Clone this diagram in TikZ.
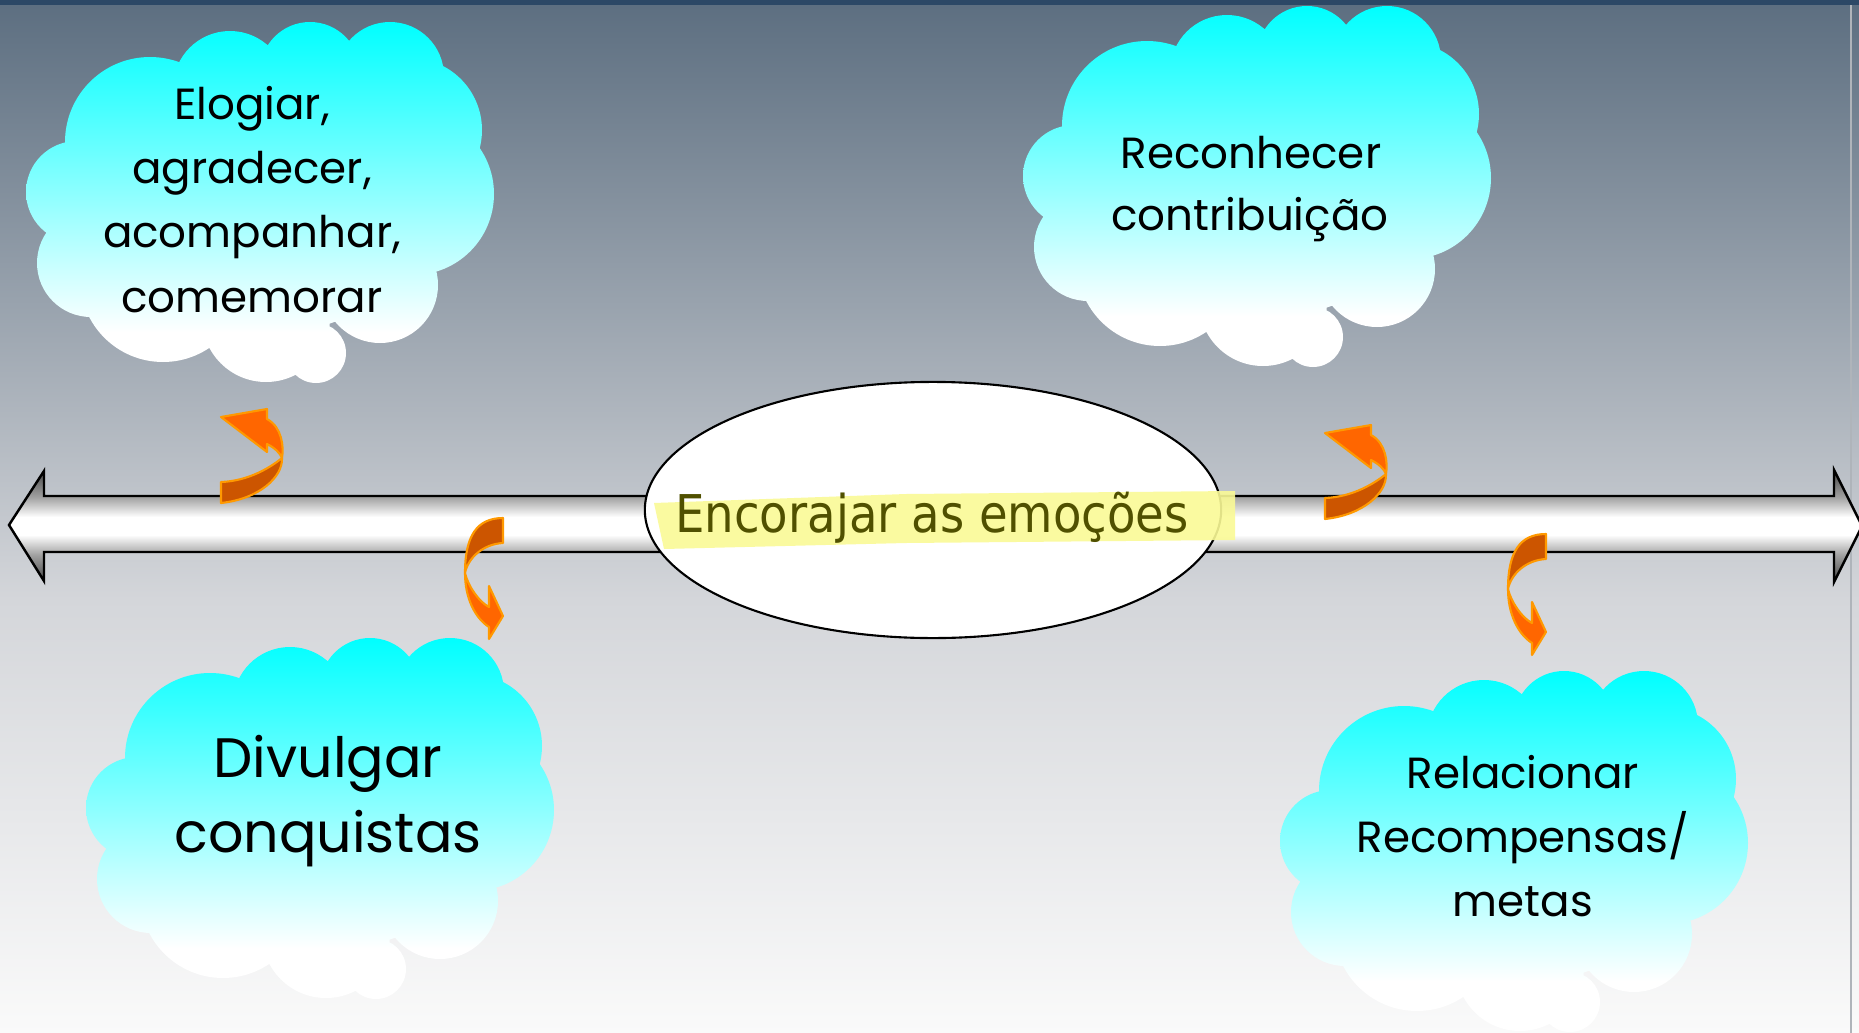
\documentclass[tikz,border=0pt]{standalone}
\usepackage{fontspec}
\setmainfont{DejaVu Sans}
\newfontfamily\handfont{Poppins}
\usetikzlibrary{shapes.geometric}

\definecolor{bgtop}{RGB}{92,110,128}
\definecolor{bgmid}{RGB}{212,214,218}
\definecolor{bgbot}{RGB}{250,250,250}
\definecolor{topbar}{RGB}{44,72,102}
\definecolor{edgegray}{RGB}{175,180,186}
\definecolor{ardark}{RGB}{70,70,70}
\definecolor{armid}{RGB}{160,160,160}
\definecolor{cloudtop}{RGB}{0,255,255}
\definecolor{orlight}{RGB}{255,102,0}
\definecolor{ordark}{RGB}{204,85,0}
\definecolor{oredge}{RGB}{255,153,0}
\definecolor{olivetext}{RGB}{80,80,0}
\definecolor{hlyellow}{RGB}{250,250,150}

\pgfdeclareverticalshading{bgshade}{100bp}{color(0bp)=(bgbot); color(25bp)=(bgbot); color(46bp)=(bgmid); color(75bp)=(bgtop); color(100bp)=(bgtop)}
\pgfdeclareverticalshading{cloudshade}{100bp}{color(0bp)=(white); color(25bp)=(white); color(32bp)=(white); color(75bp)=(cloudtop); color(100bp)=(cloudtop)}
\pgfdeclareverticalshading{arrowshade}{100bp}{color(0bp)=(ardark); color(25bp)=(ardark); color(37bp)=(armid); color(46bp)=(white); color(54bp)=(white); color(63bp)=(armid); color(75bp)=(ardark); color(100bp)=(ardark)}

\tikzset{
  arrowlight/.style={fill=orlight, draw=oredge, line width=0.6pt, line join=round},
  arrowdark/.style={fill=ordark, draw=oredge, line width=0.6pt, line join=round},
  cloudtext/.style={anchor=base, inner sep=0pt, text=black, font=\handfont\fontsize{12.4pt}{15pt}\selectfont},
  cloudbig/.style={cloudtext, font=\handfont\fontsize{15.8pt}{19pt}\selectfont},
  cloudpic/.pic={
    \shade[shading=cloudshade]
      (150,142) circle (85) (230,88) circle (57) (310,72) circle (50)
      (390,76) circle (54) (410,130) circle (72) (413,194) circle (81)
      (380,285) circle (58) (316,353) circle (30) (266,318) circle (64)
      (163,279) circle (83) (91,263) circle (54) (77,192) circle (51)
      (260,205) ellipse (170 and 130);
  },
  uparrowpic/.pic={
    \filldraw[arrowlight] (46,0) -- (0,8) -- (46,43) -- (46,35)
      .. controls (54,39) and (59,44) .. (61,49)
      .. controls (63,38) and (61,18) .. (46,10) -- cycle;
    \filldraw[arrowdark] (0,73) .. controls (28,72) and (50,58) .. (61,49)
      .. controls (62,68) and (38,90) .. (0,94) -- cycle;
  },
  downarrowpic/.pic={
    \filldraw[arrowdark] (38,0) .. controls (12,0) and (0,18) .. (0,55)
      .. controls (3,40) and (18,26) .. (38,25) -- cycle;
    \filldraw[arrowlight] (0,55) .. controls (0,80) and (10,100) .. (24,109)
      -- (24,121) -- (38,98) -- (24,68) -- (24,89)
      .. controls (14,84) and (3,68) .. (0,55) -- cycle;
  }
}

\begin{document}
\begin{tikzpicture}[x=0.01cm,y=-0.01cm]
\useasboundingbox (0,0) rectangle (1859,1033);
\clip (0,0) rectangle (1859,1033);

% background
\shade[shading=bgshade] (0,0) rectangle (1859,1033);
\fill[topbar] (0,0) rectangle (1859,5);
\draw[edgegray, line width=0.4pt] (1851,5) -- (1851,1033);

% clouds
\pic at (0,0) {cloudpic};
\pic at (997,-16) {cloudpic};
\pic at (60,616) {cloudpic};
\pic at (1254,649) {cloudpic};

% double arrow
\shadedraw[shading=arrowshade, draw=black, line width=0.7pt, line join=miter]
  (9,525) -- (44,471) -- (44,496) -- (1834,496) -- (1834,470) -- (1862,526)
  -- (1834,582) -- (1834,552) -- (44,552) -- (44,581) -- cycle;

% central ellipse
\node (hub) [ellipse, draw=black, line width=0.6pt, fill=white, inner sep=0pt,
  minimum width=5.76cm, minimum height=2.56cm] at (933,510) {};
\fill[hlyellow, opacity=0.9] (654,503) -- (906,494) -- (1235,491) -- (1235,540)
  -- (906,543) -- (664,549) -- cycle;
\node (hubtext) [anchor=base, inner sep=0pt, text=olivetext,
  font=\fontsize{14.8pt}{18pt}\selectfont] at (932,532)
  {\scalebox{0.895}[1]{Encorajar as emoções}};

% cloud texts
\node (el1) [cloudtext] at (252,119) {Elogiar,};
\node (el2) [cloudtext] at (252,183) {agradecer,};
\node (el3) [cloudtext] at (252,247) {acompanhar,};
\node (el4) [cloudtext] at (252,312) {comemorar};

\node (rc1) [cloudtext] at (1251,168) {Reconhecer};
\node (rc2) [cloudtext] at (1250,230) {contribuição};

\node (dv1) [cloudbig] at (328,777) {Divulgar};
\node (dv2) [cloudbig] at (328,852) {conquistas};

\node (rl1) [cloudtext] at (1523,788) {Relacionar};
\node (rl2) [cloudtext] at (1523,852) {Recompensas/};
\node (rl3) [cloudtext] at (1523,916) {metas};

% curved arrows
\pic at (221,409) {uparrowpic};
\pic at (1325,425) {uparrowpic};
\pic at (465,518) {downarrowpic};
\pic at (1508,534) {downarrowpic};
\end{tikzpicture}
\end{document}
